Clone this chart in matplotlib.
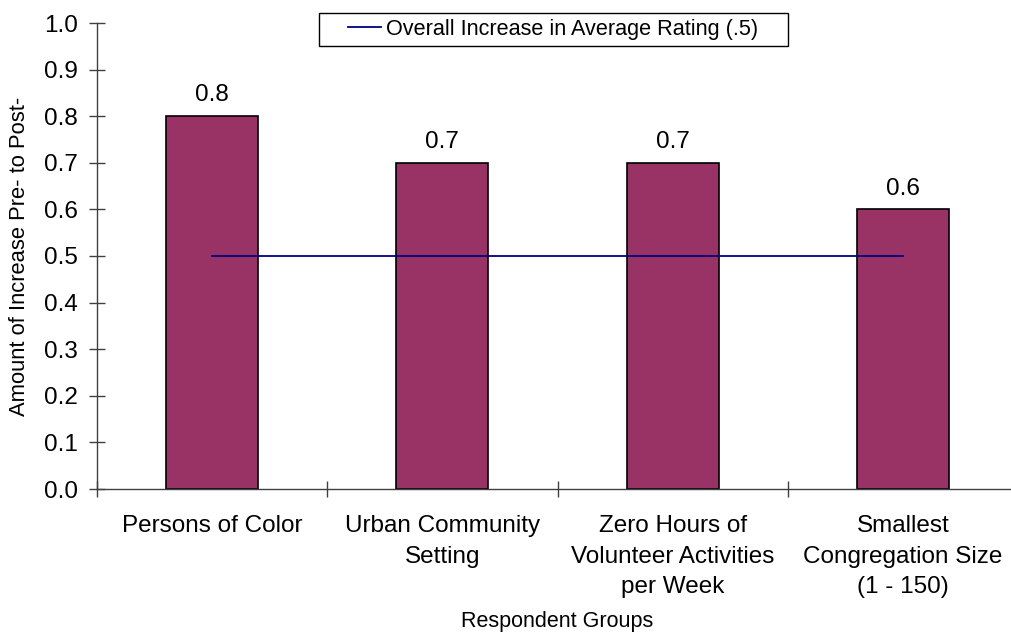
import numpy as np
import matplotlib
matplotlib.use("Agg")
import matplotlib.pyplot as plt
from matplotlib.legend_handler import HandlerLine2D

# ---- data ----
categories = ["Persons of Color", "Urban Community\nSetting",
              "Zero Hours of\nVolunteer Activities\nper Week",
              "Smallest\nCongregation Size\n(1 - 150)"]
increase = [0.8, 0.7, 0.7, 0.6]
overall_value = 0.5
overall_label = "Overall Increase in Average Rating (.5)"
y_ticks = [0.0, 0.1, 0.2, 0.3, 0.4, 0.5, 0.6, 0.7, 0.8, 0.9, 1.0]

plt.rcParams['font.family'] = ['Liberation Sans', 'DejaVu Sans']

fig = plt.figure(figsize=(10.11, 6.35), dpi=100)
ax = fig.add_axes([97/1011, 146/635, 921/1011, 466/635])

x = np.arange(len(categories))
bars = ax.bar(x, increase, width=0.4, color="#993366", edgecolor="black",
              linewidth=1.2, zorder=2)
ax.bar_label(bars, labels=[f"{v:.1f}" for v in increase], padding=7, fontsize=17.5)

line, = ax.plot([x[0], x[-1]], [overall_value, overall_value], color="#000080",
                linewidth=1.3, zorder=3, label=overall_label)

ax.set_xlim(-0.5, len(categories) - 0.5)
ax.set_ylim(0, 1.0)
ax.set_yticks(y_ticks)
ax.set_yticklabels([f"{t:.1f}" for t in y_ticks])
ax.tick_params(axis='y', direction='inout', length=11.5, width=1, color="#404040",
               labelsize=17.5, pad=8)

ax.set_xticks(x)
ax.set_xticklabels(categories, fontsize=17.5, linespacing=1.5)
ax.tick_params(axis='x', which='major', length=0, pad=19)
ax.set_xticks(np.arange(len(categories)) - 0.5, minor=True)
ax.tick_params(axis='x', which='minor', direction='inout', length=11, width=1,
               color="#404040")

for s in ["top", "right"]:
    ax.spines[s].set_visible(False)
for s in ["left", "bottom"]:
    ax.spines[s].set_color("#404040")
    ax.spines[s].set_linewidth(1)

ax.set_ylabel("Amount of Increase Pre- to Post-", fontsize=15.8, labelpad=10)
ax.set_xlabel("Respondent Groups", fontsize=15.5, va='center')
ax.xaxis.set_label_coords(0.5, (489 - 622) / 466)


class PadHandler(HandlerLine2D):
    def __init__(self, lpad_px, **kw):
        super().__init__(**kw)
        self.lpad_px = lpad_px

    def get_xdata(self, legend, xdescent, ydescent, width, height, fontsize):
        x0 = -xdescent + self.lpad_px
        xd = np.array([x0, width - xdescent])
        return xd, xd


fs_leg = 15.6
px_per_pt = 100 / 72
em = fs_leg * px_per_pt
leg = ax.legend(handles=[line], labels=[overall_label + "    "],
                handler_map={line: PadHandler(lpad_px=23 * 72 / 100)},
                loc='upper left', bbox_to_anchor=(319 / 1011, 1 - 13 / 635),
                bbox_transform=fig.transFigure, fontsize=fs_leg,
                frameon=True, fancybox=False, shadow=False, borderpad=0.28,
                borderaxespad=0, handlelength=56 / em, handletextpad=5 / em)
leg.get_frame().set_edgecolor("black")
leg.get_frame().set_linewidth(1)
leg.get_frame().set_alpha(None)

fig.savefig("out.png", dpi=100)
